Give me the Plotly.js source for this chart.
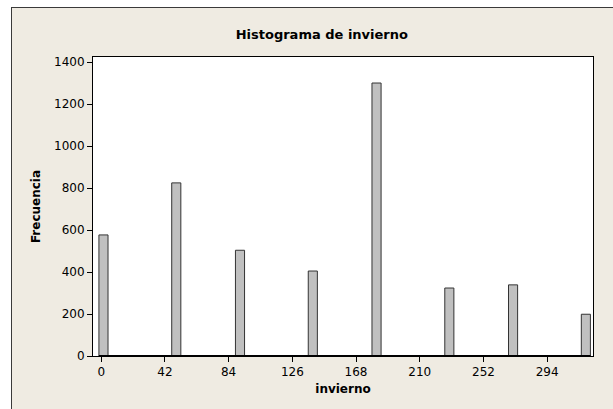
<!DOCTYPE html>
<html>
<head>
<meta charset="utf-8">
<script src="https://cdn.plot.ly/plotly-3.0.1.min.js"></script>
<style>
  html, body { margin: 0; padding: 0; background: #ffffff; width: 613px; height: 409px; overflow: hidden; }
  #frame { position: absolute; left: 11px; top: 7px; width: 640px; height: 440px; background: #efebe2; border: 1px solid #3a3a3a; }
  #chart { position: absolute; left: 0; top: 0; width: 613px; height: 409px; }
</style>
</head>
<body>
<div id="frame"></div>
<div id="chart"></div>
<script>
// Histogram data (non-empty bins): bin midpoints and frequencies
const binMidpoints = [1.5, 49.5, 91.5, 139.5, 181.5, 229.5, 271.5, 319.5];
const frequencies = [577, 825, 504, 405, 1301, 324, 339, 199];
const binWidth = 6;
const xTickValues = [0, 42, 84, 126, 168, 210, 252, 294];
const yTickValues = [0, 200, 400, 600, 800, 1000, 1200, 1400];

const font = "DejaVu Sans, Verdana, sans-serif";

const trace = {
  type: 'bar',
  x: binMidpoints,
  y: frequencies,
  width: binMidpoints.map(() => binWidth),
  marker: { color: '#c0c0c0', line: { color: '#333333', width: 1 } },
  hoverinfo: 'skip'
};

const firstEdge = binMidpoints[0] - binWidth / 2;
const lastEdge = binMidpoints[binMidpoints.length - 1] + binWidth / 2;

const layout = {
  width: 613,
  height: 409,
  margin: { l: 93, r: 20, t: 57, b: 53 },
  paper_bgcolor: 'rgba(0,0,0,0)',
  plot_bgcolor: '#ffffff',
  showlegend: false,
  bargap: 0,
  font: { family: font, size: 12, color: '#000000' },
  title: {
    text: 'Histograma de invierno',
    font: { family: font, size: 13, color: '#000000', weight: 'bold' },
    x: 0.525, xanchor: 'center', xref: 'container',
    y: 0.915, yanchor: 'middle', yref: 'container'
  },
  xaxis: {
    range: [-5.4, 324.2],
    tickvals: xTickValues,
    ticktext: xTickValues.map(String),
    ticks: 'outside', ticklen: 5, tickcolor: '#000000', tickwidth: 1,
    showline: true, linecolor: '#000000', linewidth: 1, mirror: true,
    showgrid: false, zeroline: false,
    tickfont: { family: font, size: 12 },
    title: { text: 'invierno', font: { family: font, size: 12, weight: 'bold' }, standoff: 6 }
  },
  yaxis: {
    range: [0, 1425],
    tickvals: yTickValues,
    ticks: 'outside', ticklen: 5, tickcolor: '#000000', tickwidth: 1,
    showline: true, linecolor: '#000000', linewidth: 1, mirror: true,
    showgrid: false, zeroline: false,
    tickfont: { family: font, size: 12 },
    title: { text: 'Frecuencia', font: { family: font, size: 12, weight: 'bold' }, standoff: 10 }
  },
  shapes: [{
    type: 'line', xref: 'x', yref: 'y',
    x0: firstEdge, x1: lastEdge, y0: 0, y1: 0,
    line: { color: '#000000', width: 2 }
  }]
};

Plotly.newPlot('chart', [trace], layout, { staticPlot: true, displayModeBar: false });
</script>
</body>
</html>
